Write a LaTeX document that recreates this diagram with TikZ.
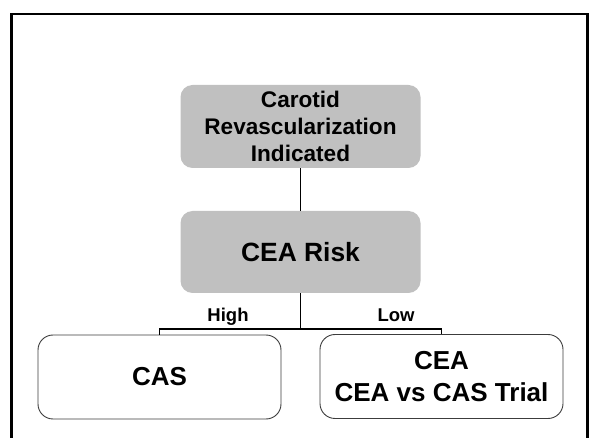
\documentclass[tikz,border=0pt]{standalone}
\usepackage{fontspec}
\setmainfont{Liberation Sans}
\definecolor{boxgray}{RGB}{192,192,192}
\definecolor{edgegray}{RGB}{60,60,60}
\begin{document}
\begin{tikzpicture}[x=1pt,y=-1pt,
  graybox/.style={fill=boxgray, draw=none, rounded corners=12pt, minimum width=240pt,
    align=center, font=\bfseries, inner sep=0pt},
  whitebox/.style={fill=white, draw=edgegray, line width=0.9pt, rounded corners=15pt,
    minimum width=243pt, minimum height=84pt, align=center, font=\bfseries, inner sep=0pt},
  link/.style={draw=black, line width=1.9pt},
  branch/.style={font=\bfseries\fontsize{18.5}{18.5}\selectfont, anchor=base}
]
\useasboundingbox (0,0) rectangle (595,438);
% outer frame, running past the lower edge
\begin{scope}
  \clip (0,0) rectangle (595,438);
  \draw[line width=2.6pt] (11.3,14) rectangle (587.3,460);
\end{scope}

% decision nodes
\node[graybox, minimum height=83pt, font=\bfseries\fontsize{22.6}{26.7}\selectfont]
  (ind) at (300.5,126.5) {Carotid\\Revascularization\\Indicated};
\node[graybox, minimum height=82pt, font=\bfseries\fontsize{26.4}{30}\selectfont]
  (risk) at (300.5,252) {CEA Risk};

% outcome nodes
\node[whitebox, font=\bfseries\fontsize{26}{31.7}\selectfont] (cas) at (159.5,377) {CAS};
\node[whitebox, font=\bfseries\fontsize{26}{31.7}\selectfont] (cea) at (441.5,376.5) {CEA\\CEA vs CAS Trial};

% connectors
\coordinate (split) at (300.5,329);
\draw[link] (ind.south) -- (risk.north);
\draw[link] (risk.south) -- (split);
\draw[link] (cas.north) -- (cas.north |- split) -- (cea.north |- split) -- (cea.north);

% branch labels
\node[branch] (hi) at (228,321.7) {High};
\node[branch] (lo) at (396,321.7) {Low};
\end{tikzpicture}
\end{document}
